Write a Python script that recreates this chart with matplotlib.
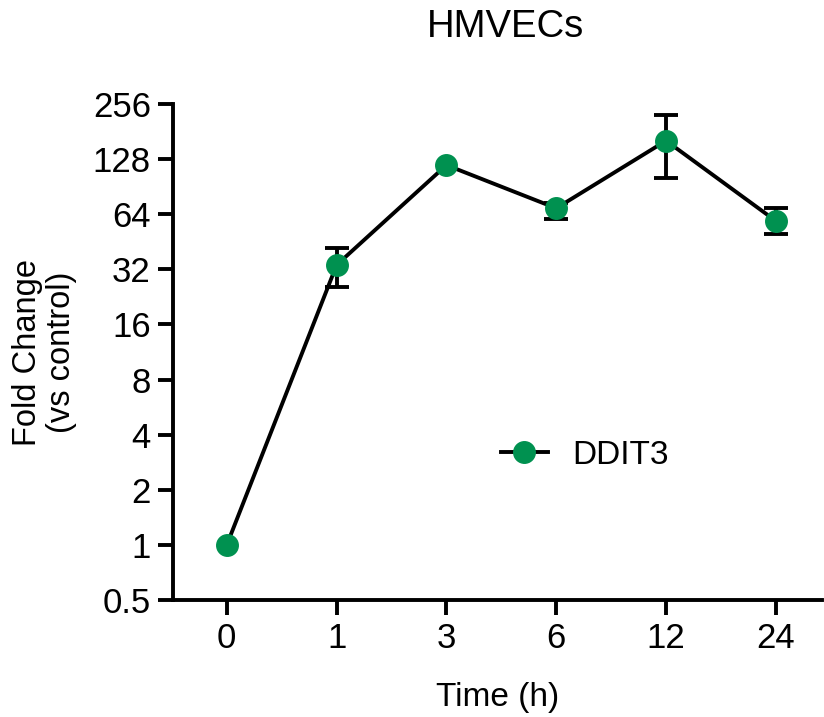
import matplotlib
matplotlib.use("Agg")
import matplotlib.pyplot as plt
from matplotlib.ticker import FixedLocator, NullLocator
from matplotlib.lines import Line2D

plt.rcParams['font.family'] = ['Liberation Sans', 'DejaVu Sans']

nan = float("nan")
time_labels = ["0", "1", "3", "6", "12", "24"]
ddit3_mean = [1.0, 33.8, 118.7, 69.0, 161.3, 58.8]
ddit3_err_low = [nan, 8.1, nan, 8.9, 60.0, 9.1]
ddit3_err_high = [nan, 8.3, nan, 5.0, 61.6, 10.0]
y_ticks = [0.5, 1, 2, 4, 8, 16, 32, 64, 128, 256]
y_tick_labels = ["0.5", "1", "2", "4", "8", "16", "32", "64", "128", "256"]

green = "#009150"
lw = 2.8
W, H = 824, 717
fig = plt.figure(figsize=(W / 100, H / 100), dpi=100)
ax = fig.add_axes([173 / W, 1 - 600 / H, (822 - 173) / W, (600 - 104) / H])

x = list(range(len(time_labels)))
ax.errorbar(x, ddit3_mean, yerr=[ddit3_err_low, ddit3_err_high], fmt="none",
            ecolor="black", elinewidth=lw, capsize=8.5, capthick=lw, zorder=2)
ax.plot(x, ddit3_mean, color="black", lw=lw, zorder=3)
ax.plot(x, ddit3_mean, ls="none", marker="o", markersize=15.5,
        markerfacecolor=green, markeredgecolor=green, zorder=4)

ax.set_yscale("log", base=2)
ax.set_ylim(0.5, 256)
ax.yaxis.set_major_locator(FixedLocator(y_ticks))
ax.set_yticklabels(y_tick_labels)
ax.yaxis.set_minor_locator(NullLocator())
ax.set_xlim(-0.49, 5.42)
ax.set_xticks(x)
ax.set_xticklabels(time_labels)

for s in ["top", "right"]:
    ax.spines[s].set_visible(False)
for s in ["left", "bottom"]:
    ax.spines[s].set_linewidth(lw)
    ax.spines[s].set_capstyle("projecting")
ax.tick_params(axis="both", which="major", width=lw, length=11,
               labelsize=25, pad=5, color="black")

ax.set_xlabel("Time (h)", fontsize=24, labelpad=19)
ax.set_ylabel("Fold Change\n(vs control)", fontsize=23.5, labelpad=11,
              linespacing=1.15)
ax.set_title("HMVECs", fontsize=27.5, pad=48, x=0.512)

handle = Line2D([], [], color="black", lw=lw, marker="o", markersize=15.5,
                markerfacecolor=green, markeredgecolor=green)
leg = ax.legend([handle], ["DDIT3"], loc="center left",
                bbox_to_anchor=(501 / W, 1 - 455 / H),
                bbox_transform=fig.transFigure, frameon=False, fontsize=24,
                handlelength=1.4, handletextpad=0.75, borderpad=0,
                borderaxespad=0)

fig.savefig("out.png", dpi=100)
